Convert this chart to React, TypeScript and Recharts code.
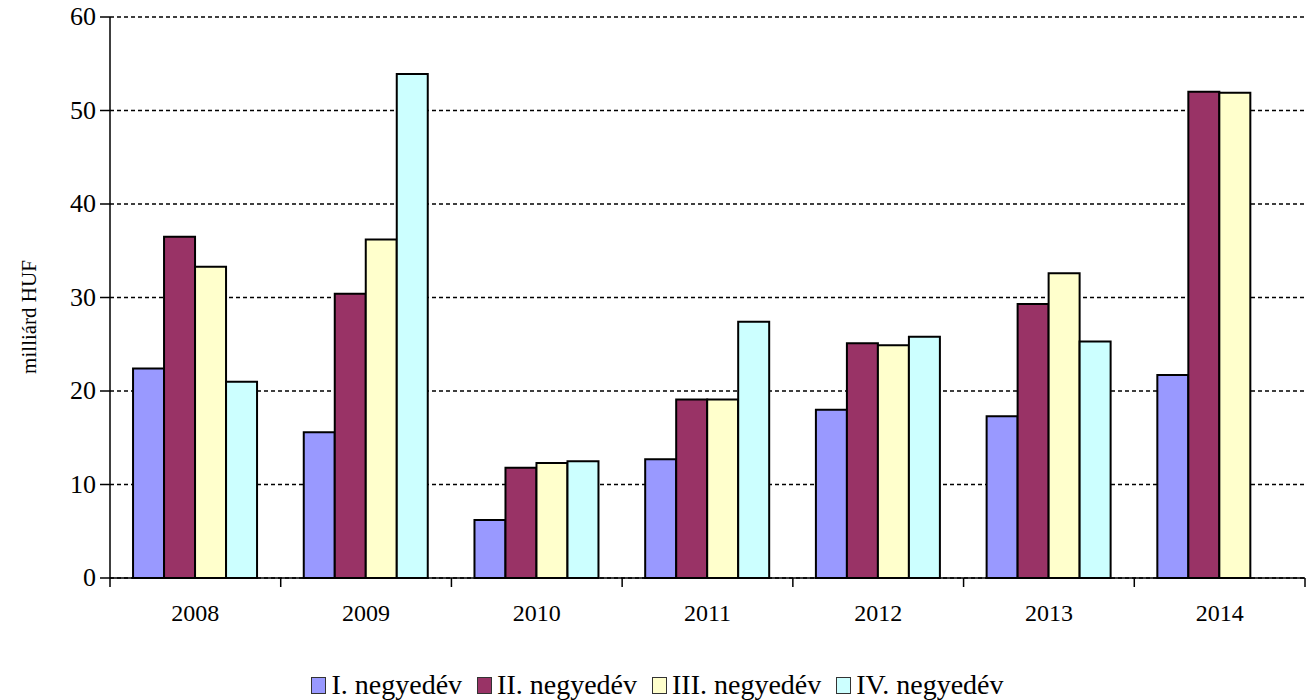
import React from 'react';
import { BarChart, Bar, XAxis, YAxis, CartesianGrid, Legend } from 'recharts';

const years = ['2008', '2009', '2010', '2011', '2012', '2013', '2014'];
const q1 = [22.4, 15.6, 6.2, 12.7, 18.0, 17.3, 21.7];
const q2 = [36.5, 30.4, 11.8, 19.1, 25.1, 29.3, 52.0];
const q3 = [33.3, 36.2, 12.3, 19.1, 24.9, 32.6, 51.9];
const q4: (number | null)[] = [21.0, 53.9, 12.5, 27.4, 25.8, 25.3, null];
const yTicks = [0, 10, 20, 30, 40, 50, 60];
const seriesNames = ['I. negyedév', 'II. negyedév', 'III. negyedév', 'IV. negyedév'];
const seriesKeys = ['q1', 'q2', 'q3', 'q4'];
const colors = ['#9999FF', '#993366', '#FFFFCC', '#CCFFFF'];

const data = years.map((y, i) => ({ year: y, q1: q1[i], q2: q2[i], q3: q3[i], q4: q4[i] }));

const W = 1315;
const H = 700;
const M = { top: 17, right: 10, left: 50, bottom: 82 };
const Y_AXIS_W = 60;
const X_AXIS_H = 40;
const PLOT_LEFT = M.left + Y_AXIS_W;
const PLOT_W = W - PLOT_LEFT - M.right;
const BAND = PLOT_W / years.length;
const AXIS_Y = H - M.bottom - X_AXIS_H;
const FONT = 'Liberation Serif, Times New Roman, DejaVu Serif, serif';

const XTick = (props: any) => {
  const { x, payload, index } = props;
  const half = BAND / 2;
  return (
    <g>
      <line x1={x - half} x2={x - half} y1={AXIS_Y} y2={AXIS_Y + 9} stroke="#000" strokeWidth={1.5} />
      {index === years.length - 1 && (
        <line x1={x + half} x2={x + half} y1={AXIS_Y} y2={AXIS_Y + 9} stroke="#000" strokeWidth={1.5} />
      )}
      <text x={x} y={AXIS_Y + 43} textAnchor="middle" fontFamily={FONT} fontSize={24} fill="#000">
        {payload.value}
      </text>
    </g>
  );
};

const YTick = (props: any) => {
  const { x, y, payload } = props;
  return (
    <text x={x} y={y + 8} textAnchor="end" fontFamily={FONT} fontSize={26} fill="#000">
      {payload.value}
    </text>
  );
};

const LegendContent = () => (
  <div
    style={{
      display: 'flex',
      justifyContent: 'center',
      alignItems: 'center',
      fontFamily: FONT,
      fontSize: 28,
      lineHeight: '30px',
      color: '#000',
    }}
  >
    {seriesNames.map((n, i) => (
      <div key={n} style={{ display: 'flex', alignItems: 'center', marginRight: i < 3 ? 15 : 0 }}>
        <span
          style={{
            display: 'inline-block',
            width: 13,
            height: 15,
            background: colors[i],
            border: '1px solid #333',
            marginRight: 5,
          }}
        />
        <span>{n}</span>
      </div>
    ))}
  </div>
);

export default function App() {
  return (
    <div style={{ position: 'absolute', left: 0, top: 0, width: W, height: H, background: '#fff' }}>
      <BarChart width={W} height={H} data={data} margin={M} barCategoryGap="13.5%" barGap={0}>
        <CartesianGrid vertical={false} stroke="#000" strokeWidth={1.5} strokeDasharray="4 3" />
        <XAxis
          dataKey="year"
          height={X_AXIS_H}
          tickLine={false}
          axisLine={{ stroke: '#000', strokeWidth: 1.5 }}
          tick={<XTick />}
          interval={0}
        />
        <YAxis
          width={Y_AXIS_W}
          domain={[0, 60]}
          ticks={yTicks}
          interval={0}
          tickSize={10}
          tickMargin={4}
          tickLine={{ stroke: '#000', strokeWidth: 1.5 }}
          axisLine={{ stroke: '#000', strokeWidth: 1.5 }}
          tick={<YTick />}
          label={{
            content: () => (
              <text
                x={29}
                y={317}
                transform="rotate(-90 29 317)"
                textAnchor="middle"
                dominantBaseline="central"
                fontFamily={FONT}
                fontSize={21}
                fill="#000"
              >
                milliárd HUF
              </text>
            ),
          }}
        />
        <Legend
          layout="horizontal"
          verticalAlign="middle"
          align="center"
          content={<LegendContent />}
          wrapperStyle={{ position: 'absolute', top: 670, left: 0, width: W }}
        />
        {seriesKeys.map((k, i) => (
          <Bar
            key={k}
            dataKey={k}
            name={seriesNames[i]}
            fill={colors[i]}
            stroke="#000"
            strokeWidth={2}
            isAnimationActive={false}
          />
        ))}
      </BarChart>
    </div>
  );
}
